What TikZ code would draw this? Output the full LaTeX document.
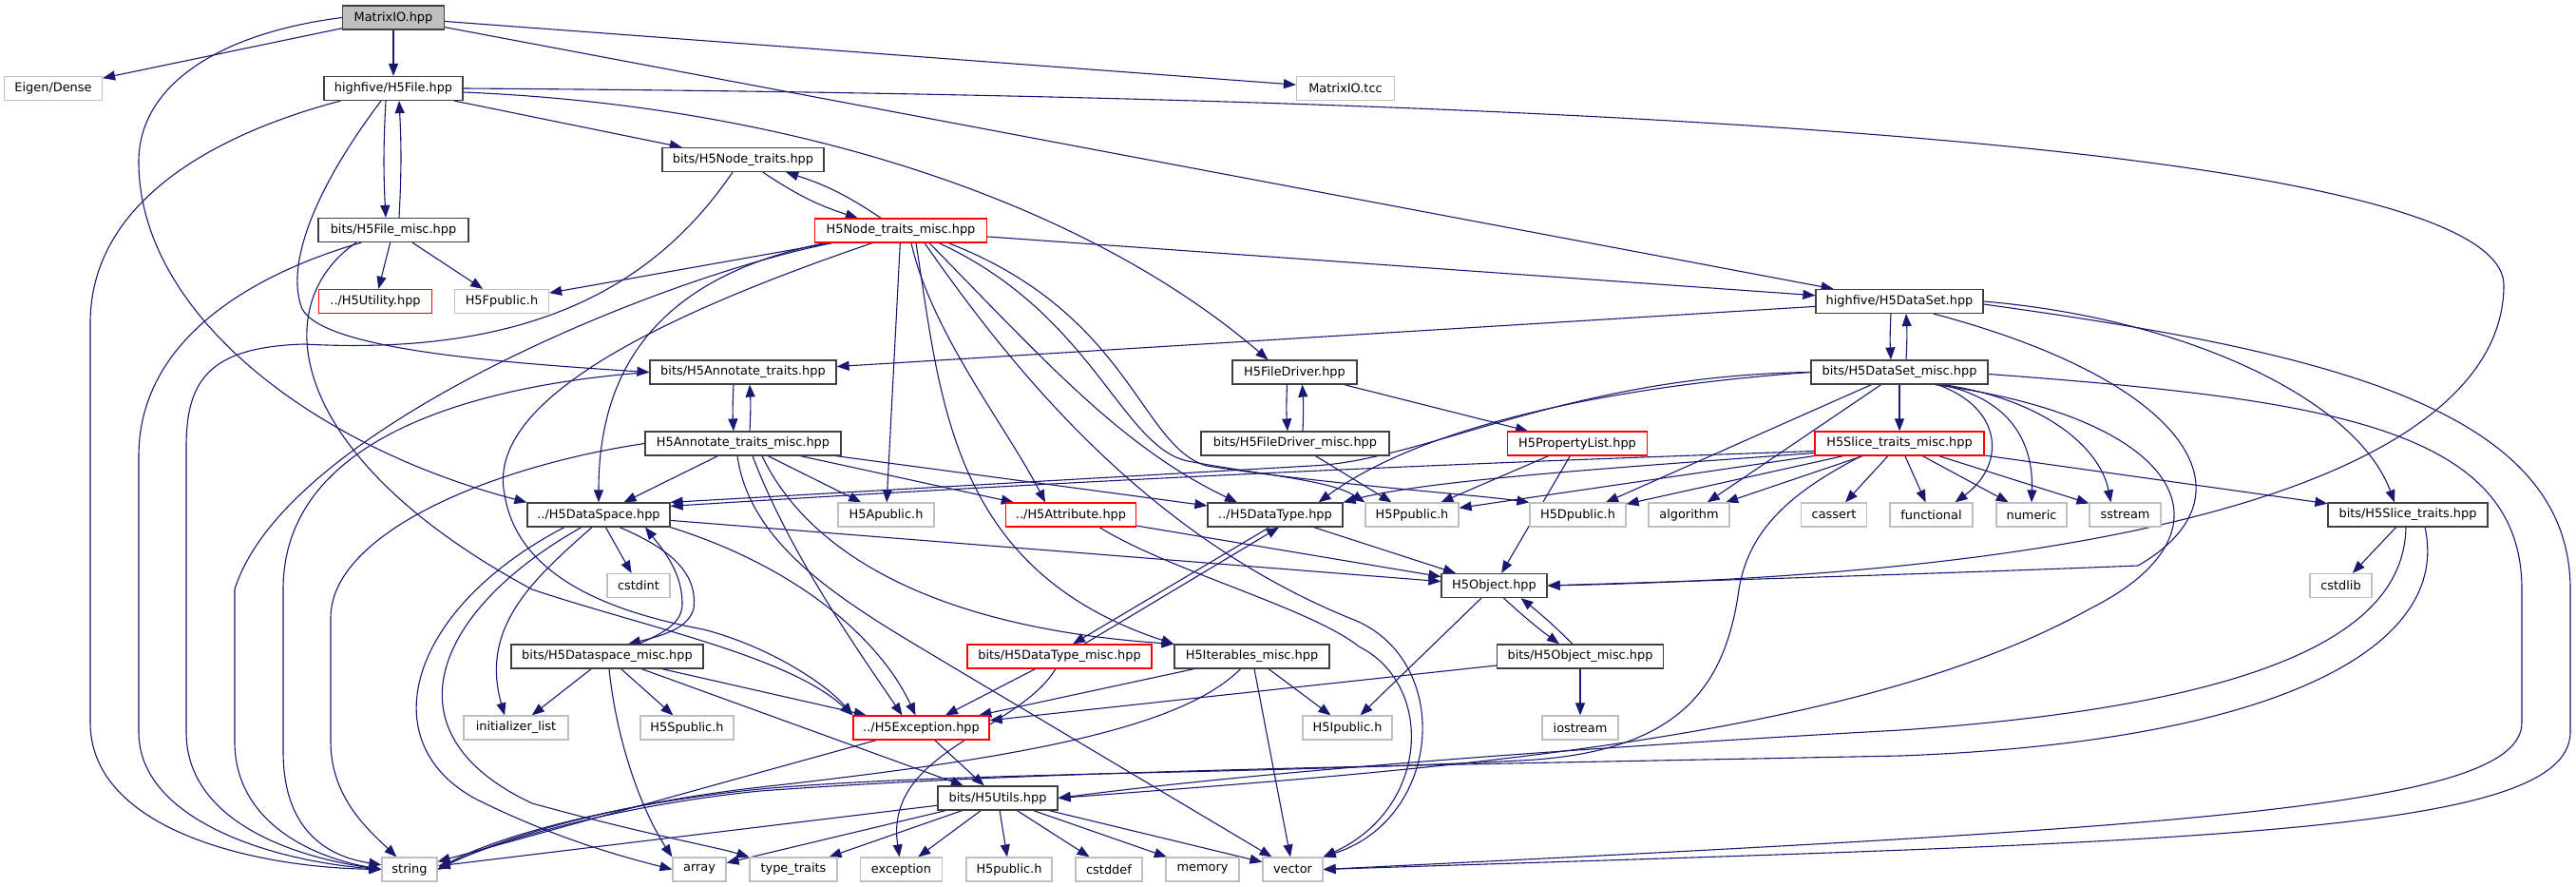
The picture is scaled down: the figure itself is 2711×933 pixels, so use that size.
\documentclass[tikz,border=0pt]{standalone}
\usepackage{fontspec}
\setmainfont{DejaVu Sans}
\usepackage{tikz}
\usetikzlibrary{arrows.meta,backgrounds}

\definecolor{edgeblue}{HTML}{191970}
\definecolor{extgray}{HTML}{BFBFBF}
\definecolor{rootgray}{HTML}{BFBFBF}
\definecolor{boxline}{HTML}{404040}

\begin{document}
\begin{tikzpicture}[
  x=1pt, y=-1pt,
  hdr/.style={draw=boxline, line width=1.2pt, fill=white, inner sep=0pt,
    minimum height=25pt, font=\fontsize{12.9}{15}\selectfont},
  rootbox/.style={hdr, fill=rootgray},
  ext/.style={hdr, draw=extgray},
  trunc/.style={hdr, draw=red},
  inc/.style={draw=edgeblue, line width=1.1pt, -{Triangle[length=13pt,width=10pt]}}
]
\useasboundingbox (0,0) rectangle (2711,933);

% headers
\node[rootbox, minimum width=107pt] (matrixio) at (414,18.5) {MatrixIO.hpp};
\node[ext, minimum width=103pt] (eigen) at (56,93) {Eigen/Dense};
\node[hdr, minimum width=146pt] (h5file) at (414,93) {highfive/H5File.hpp};
\node[ext, minimum width=103pt] (tcc) at (1416,93) {MatrixIO.tcc};
\node[hdr, minimum width=170pt] (nodetraits) at (782,168) {bits/H5Node\_traits.hpp};
\node[hdr, minimum width=158pt] (filemisc) at (414,242) {bits/H5File\_misc.hpp};
\node[trunc, minimum width=181pt] (nodemisc) at (948,242.5) {H5Node\_traits\_misc.hpp};
\node[trunc, minimum width=119pt] (utility) at (395,317) {../H5Utility.hpp};
\node[ext, minimum width=99pt] (fpublic) at (528,317) {H5Fpublic.h};
\node[hdr, minimum width=176pt] (dataset) at (1999,317) {highfive/H5DataSet.hpp};
\node[hdr, minimum width=196pt] (annot) at (782,391.5) {bits/H5Annotate\_traits.hpp};
\node[hdr, minimum width=131pt] (driver) at (1362.5,391.5) {H5FileDriver.hpp};
\node[hdr, minimum width=186pt] (datasetmisc) at (1999,391.5) {bits/H5DataSet\_misc.hpp};
\node[hdr, minimum width=206pt] (annotmisc) at (782,466.5) {H5Annotate\_traits\_misc.hpp};
\node[hdr, minimum width=198pt] (drivermisc) at (1363,466.5) {bits/H5FileDriver\_misc.hpp};
\node[trunc, minimum width=147pt] (proplist) at (1660,466.5) {H5PropertyList.hpp};
\node[trunc, minimum width=178pt] (slicemisc) at (1999,466.5) {H5Slice\_traits\_misc.hpp};
\node[hdr, minimum width=150pt] (dataspace) at (630,541.5) {../H5DataSpace.hpp};
\node[ext, minimum width=101pt] (apublic) at (932.5,541.5) {H5Apublic.h};
\node[trunc, minimum width=137pt] (attribute) at (1127,541.5) {../H5Attribute.hpp};
\node[hdr, minimum width=142pt] (datatype) at (1342,541.5) {../H5DataType.hpp};
\node[ext, minimum width=98pt] (ppublic) at (1486,541.5) {H5Ppublic.h};
\node[ext, minimum width=101pt] (dpublic) at (1660.5,541.5) {H5Dpublic.h};
\node[ext, minimum width=85pt] (algorithm) at (1777.5,541.5) {algorithm};
\node[ext, minimum width=69pt] (cassert) at (1930,541.5) {cassert};
\node[ext, minimum width=87pt] (functional) at (2032.5,541.5) {functional};
\node[ext, minimum width=74pt] (numeric) at (2138,541.5) {numeric};
\node[ext, minimum width=75pt] (sstream) at (2236.5,541.5) {sstream};
\node[hdr, minimum width=168pt] (slicetraits) at (2534,541.5) {bits/H5Slice\_traits.hpp};
\node[ext, minimum width=66pt] (cstdint) at (672,616) {cstdint};
\node[hdr, minimum width=111pt] (object) at (1572.5,616) {H5Object.hpp};
\node[ext, minimum width=65pt] (cstdlib) at (2463.5,616) {cstdlib};
\node[hdr, minimum width=202pt] (dataspacemisc) at (639,690.5) {bits/H5Dataspace\_misc.hpp};
\node[trunc, minimum width=194pt] (datatypemisc) at (1115,690.5) {bits/H5DataType\_misc.hpp};
\node[hdr, minimum width=163pt] (iterables) at (1317.5,690.5) {H5Iterables\_misc.hpp};
\node[hdr, minimum width=175pt] (objectmisc) at (1663,690.5) {bits/H5Object\_misc.hpp};
\node[ext, minimum width=110pt] (initlist) at (543,765.5) {initializer\_list};
\node[ext, minimum width=98pt] (spublic) at (723,765.5) {H5Spublic.h};
\node[trunc, minimum width=143pt] (exchpp) at (969.5,765.5) {../H5Exception.hpp};
\node[ext, minimum width=94pt] (ipublic) at (1418,765.5) {H5Ipublic.h};
\node[ext, minimum width=80pt] (iostream) at (1663,765.5) {iostream};
\node[hdr, minimum width=126pt] (utils) at (1050,839.5) {bits/H5Utils.hpp};
\node[ext, minimum width=58pt] (string) at (431,914.5) {string};
\node[ext, minimum width=56pt] (array) at (736,914.5) {array};
\node[ext, minimum width=92pt] (typetraits) at (835,914.5) {type\_traits};
\node[ext, minimum width=86pt] (exception) at (948.5,914.5) {exception};
\node[ext, minimum width=90pt] (h5public) at (1062,914.5) {H5public.h};
\node[ext, minimum width=70pt] (cstddef) at (1167,914.5) {cstddef};
\node[ext, minimum width=77pt] (memory) at (1265.5,914.5) {memory};
\node[ext, minimum width=63pt] (vector) at (1360.5,914.5) {vector};

\begin{scope}[on background layer]
% MatrixIO.hpp
\draw[inc] (matrixio) -- (eigen);
\draw[inc] (matrixio) -- (h5file);
\draw[inc] (matrixio) -- (tcc);
\draw[inc] (matrixio) -- (dataset);
\draw[inc] (matrixio.west) .. controls (230,35) and (146,90) .. (146,170) .. controls (146,330) and (330,470) .. (dataspace.north west);

% H5File.hpp
\draw[inc] ([xshift=-8pt]h5file.south) to[bend right=3] ([xshift=-8pt]filemisc.north);
\draw[inc] ([xshift=6pt]filemisc.north) to[bend right=3] ([xshift=6pt]h5file.south);
\draw[inc] (h5file) -- (nodetraits);
\draw[inc] (h5file.east) .. controls (1500,100) and (2635,140) .. (2635,300) .. controls (2635,450) and (2400,600) .. (object.east);
\draw[inc] ([yshift=-4pt]h5file.east) .. controls (850,112) and (1150,220) .. ([xshift=-28pt]driver.north);
\draw[inc] ([xshift=18pt]h5file.south west) .. controls (230,140) and (95,210) .. (95,340) -- (95,760) .. controls (95,870) and (260,912) .. (string.west);
\draw[inc] ([xshift=-13pt]h5file.south) .. controls (330,200) and (300,280) .. (318,325) .. controls (340,365) and (500,380) .. (annot.west);

% bits/H5File_misc.hpp
\draw[inc] (filemisc) -- (utility);
\draw[inc] (filemisc) -- (fpublic);
\draw[inc] ([xshift=46pt]filemisc.south west) .. controls (260,290) and (146,360) .. (146,480) -- (146,770) .. controls (146,860) and (280,905) .. (string.west);
\draw[inc] ([xshift=-39pt]filemisc.south) .. controls (280,320) and (300,480) .. (560,620) .. controls (680,660) and (830,690) .. (exchpp.north west);

% bits/H5Node_traits.hpp
\draw[inc] (nodetraits) to[bend right=8] (nodemisc);
\draw[inc] (nodemisc) to[bend right=8] (nodetraits);
\draw[inc] ([xshift=-11pt]nodetraits.south) .. controls (690,300) and (560,375) .. (320,362) .. controls (220,365) and (196,400) .. (196,470) -- (196,770) .. controls (196,860) and (300,900) .. (string.west);

% H5Node_traits_misc.hpp
\draw[inc] (nodemisc) -- (fpublic);
\draw[inc] ([xshift=-72pt]nodemisc.south) .. controls (700,290) and (300,450) .. (247,620) -- (247,780) .. controls (247,860) and (320,900) .. (string.west);
\draw[inc] ([xshift=-80pt]nodemisc.south) .. controls (700,290) and (630,380) .. (dataspace.north);
\draw[inc] (nodemisc) -- (apublic);
\draw[inc] ([xshift=11pt]nodemisc.south) .. controls (980,350) and (1060,450) .. ([xshift=-27pt]attribute.north);
\draw[inc] ([xshift=16pt]nodemisc.south) .. controls (990,420) and (1000,600) .. (iterables.north west);
\draw[inc] ([xshift=25pt]nodemisc.south) .. controls (1060,380) and (1200,560) .. (1420,650) .. controls (1530,690) and (1520,860) .. (vector.north east);
\draw[inc] ([xshift=30pt]nodemisc.south) .. controls (1100,380) and (1180,470) .. ([xshift=-40pt]datatype.north);
\draw[inc] ([xshift=40pt]nodemisc.south) .. controls (1150,330) and (1180,470) .. (1250,485) .. controls (1330,500) and (1400,505) .. (ppublic.north west);
\draw[inc] ([xshift=50pt]nodemisc.south) .. controls (1190,330) and (1200,470) .. (1270,490) .. controls (1400,510) and (1550,520) .. (dpublic.north west);
\draw[inc] (nodemisc) -- (dataset);
\draw[inc] ([xshift=-30pt]nodemisc.south) .. controls (700,330) and (510,420) .. (531,520) .. controls (545,610) and (650,645) .. (740,662) .. controls (810,680) and (870,720) .. (exchpp.north west);

% highfive/H5DataSet.hpp
\draw[inc] ([xshift=-9pt]dataset.south) to[bend right=3] ([xshift=-9pt]datasetmisc.north);
\draw[inc] ([xshift=7pt]datasetmisc.north) to[bend right=3] ([xshift=7pt]dataset.south);
\draw[inc] (dataset) -- (annot);
\draw[inc] (dataset.east) .. controls (2300,335) and (2480,420) .. ([xshift=-14pt]slicetraits.north);
\draw[inc] ([yshift=-3pt]dataset.east) .. controls (2450,370) and (2705,430) .. (2705,620) -- (2705,770) .. controls (2705,880) and (2300,885) .. (vector.east);
\draw[inc] ([xshift=36pt]dataset.south) .. controls (2300,400) and (2380,520) .. (2250,595) .. controls (2000,605) and (1750,612) .. (object.east);

% bits/H5DataSet_misc.hpp
\draw[inc] (datasetmisc) -- (slicemisc);
\draw[inc] (datasetmisc.west) .. controls (1650,395) and (1500,485) .. (1380,490) -- (dataspace.north east);
\draw[inc] (datasetmisc.west) .. controls (1650,410) and (1480,460) .. ([xshift=-26pt]datatype.north east);
\draw[inc] (datasetmisc) -- (dpublic);
\draw[inc] (datasetmisc) -- (algorithm);
\draw[inc] ([xshift=40pt]datasetmisc.south) .. controls (2110,430) and (2110,490) .. ([xshift=25pt]functional.north);
\draw[inc] ([xshift=43pt]datasetmisc.south) .. controls (2120,420) and (2140,470) .. (numeric.north);
\draw[inc] ([xshift=46pt]datasetmisc.south) .. controls (2150,420) and (2210,470) .. ([xshift=-15pt]sstream.north);
\draw[inc] ([yshift=-2pt]datasetmisc.east) .. controls (2450,420) and (2654,450) .. (2654,620) -- (2654,760) .. controls (2654,850) and (2300,870) .. (vector.east);
\draw[inc] ([xshift=37pt]datasetmisc.south) .. controls (2300,440) and (2360,560) .. (2200,640) .. controls (1950,780) and (1500,810) .. (utils.east);

% H5Slice_traits_misc.hpp
\draw[inc] ([yshift=-8pt]slicemisc.west) .. controls (1700,482) and (1300,495) .. ([yshift=-4pt]dataspace.north east);
\draw[inc] ([yshift=-10pt]slicemisc.west) .. controls (1700,492) and (1500,505) .. (datatype.north east);
\draw[inc] (slicemisc) -- (ppublic);
\draw[inc] (slicemisc) -- (dpublic);
\draw[inc] (slicemisc) -- (algorithm);
\draw[inc] (slicemisc) -- (cassert);
\draw[inc] (slicemisc) -- (functional);
\draw[inc] (slicemisc) -- (numeric);
\draw[inc] (slicemisc) -- (sstream);
\draw[inc] (slicemisc) -- (slicetraits);
\draw[inc] ([xshift=-40pt]slicemisc.south) .. controls (1880,520) and (1840,560) .. (1830,620) .. controls (1815,730) and (1760,792) .. (1600,800) .. controls (1300,815) and (1000,812) .. (800,830) .. controls (650,845) and (520,880) .. (string.east);

% bits/H5Slice_traits.hpp
\draw[inc] (slicetraits) -- (cstdlib);
\draw[inc] ([xshift=-2pt]slicetraits.south) .. controls (2530,660) and (2400,740) .. (2000,768) .. controls (1600,790) and (1300,815) .. (utils.east);
\draw[inc] ([xshift=18pt]slicetraits.south) .. controls (2580,680) and (2400,780) .. (2000,795) .. controls (1500,805) and (1100,810) .. (800,832) .. controls (650,847) and (520,885) .. (string.east);

% ../H5DataSpace.hpp
\draw[inc] (dataspace) -- (object);
\draw[inc] (dataspace) -- (cstdint);
\draw[inc] ([xshift=22pt]dataspace.south) .. controls (700,575) and (735,600) .. (730,640) .. controls (725,660) and (700,668) .. ([xshift=22pt]dataspacemisc.north);
\draw[inc] ([xshift=33pt]dataspacemisc.north) .. controls (700,665) and (718,655) .. (718,635) .. controls (718,600) and (695,575) .. ([xshift=49pt]dataspace.south);
\draw[inc] ([xshift=-7pt]dataspace.south) .. controls (560,610) and (505,660) .. ([xshift=-12pt]initlist.north);
\draw[inc] ([xshift=-36pt]dataspace.south) .. controls (430,640) and (390,780) .. (500,840) .. controls (580,880) and (650,900) .. (array.west);
\draw[inc] ([xshift=-18pt]dataspace.south) .. controls (460,640) and (400,770) .. (560,845) .. controls (680,878) and (750,890) .. (typetraits.north west);
\draw[inc] (dataspace.south east) .. controls (850,600) and (930,680) .. (exchpp);

% bits/H5Dataspace_misc.hpp
\draw[inc] (dataspacemisc) -- (initlist);
\draw[inc] (dataspacemisc) -- (spublic);
\draw[inc] ([xshift=2pt]dataspacemisc.south) .. controls (650,790) and (680,860) .. (array.north west);
\draw[inc] (dataspacemisc) -- (exchpp);
\draw[inc] (dataspacemisc) -- (utils);

% H5Annotate_traits
\draw[inc] ([xshift=-10pt]annot.south) to[bend right=3] ([xshift=-10pt]annotmisc.north);
\draw[inc] ([xshift=7pt]annotmisc.north) to[bend right=3] ([xshift=7pt]annot.south);
\draw[inc] (annot.west) .. controls (500,405) and (298,460) .. (298,620) -- (298,790) .. controls (298,870) and (340,900) .. (string);
\draw[inc] (annotmisc) -- (dataspace);
\draw[inc] (annotmisc) -- (apublic);
\draw[inc] (annotmisc) -- (attribute);
\draw[inc] (annotmisc) -- (datatype);
\draw[inc] (annotmisc.west) .. controls (520,490) and (348,560) .. (348,650) -- (348,780) .. controls (348,840) and (390,875) .. (string);
\draw[inc] ([xshift=10pt]annotmisc.south) .. controls (830,580) and (900,680) .. ([xshift=-20pt]exchpp.north);
\draw[inc] ([xshift=20pt]annotmisc.south) .. controls (850,580) and (980,660) .. (iterables.north west);
\draw[inc] ([xshift=-6pt]annotmisc.south) .. controls (790,580) and (900,640) .. (1000,700) -- (vector);

% H5FileDriver, H5PropertyList
\draw[inc] ([xshift=-8pt]driver.south) to[bend right=3] ([xshift=-8pt]drivermisc.north);
\draw[inc] ([xshift=8pt]drivermisc.north) to[bend right=3] ([xshift=8pt]driver.south);
\draw[inc] (driver) -- (proplist);
\draw[inc] (drivermisc) -- (ppublic);
\draw[inc] (proplist) -- (ppublic);
\draw[inc] (proplist) -- (object);

% ../H5DataType.hpp, ../H5Attribute.hpp
\draw[inc] (datatype) -- (object);
\draw[inc] ([xshift=-6pt]datatype.south) -- ([xshift=14pt]datatypemisc.north);
\draw[inc] ([xshift=26pt]datatypemisc.north) -- ([xshift=4pt]datatype.south);
\draw[inc] (datatypemisc) -- (exchpp);
\draw[inc] ([xshift=-4pt]datatypemisc.south) .. controls (1070,770) and (930,790) .. (exception);
\draw[inc] (attribute) -- (object);
\draw[inc] ([xshift=30pt]attribute.south) .. controls (1230,600) and (1380,640) .. (1430,680) .. controls (1510,720) and (1505,850) .. (vector.north east);

% H5Object.hpp
\draw[inc] (object) -- (ipublic);
\draw[inc] ([xshift=10pt]object.south) to[bend right=3] ([xshift=-22pt]objectmisc.north);
\draw[inc] ([xshift=-8pt]objectmisc.north) to[bend right=3] ([xshift=28pt]object.south);
\draw[inc] (objectmisc) -- (iostream);
\draw[inc] (objectmisc) -- (exchpp);

% H5Iterables_misc.hpp
\draw[inc] (iterables) -- (exchpp);
\draw[inc] (iterables) -- (ipublic);
\draw[inc] (iterables) -- (vector);
\draw[inc] ([xshift=-12pt]iterables.south) .. controls (1240,770) and (1050,800) .. (800,828) .. controls (650,845) and (530,880) .. (string.east);

% ../H5Exception.hpp, bits/H5Utils.hpp
\draw[inc] (exchpp) -- (string);
\draw[inc] (exchpp) -- (utils);
\draw[inc] (utils) -- (string);
\draw[inc] (utils) -- (array);
\draw[inc] (utils) -- (typetraits);
\draw[inc] (utils) -- (exception);
\draw[inc] (utils) -- (h5public);
\draw[inc] (utils) -- (cstddef);
\draw[inc] (utils) -- (memory);
\draw[inc] (utils) -- (vector);
\end{scope}
\end{tikzpicture}
\end{document}
